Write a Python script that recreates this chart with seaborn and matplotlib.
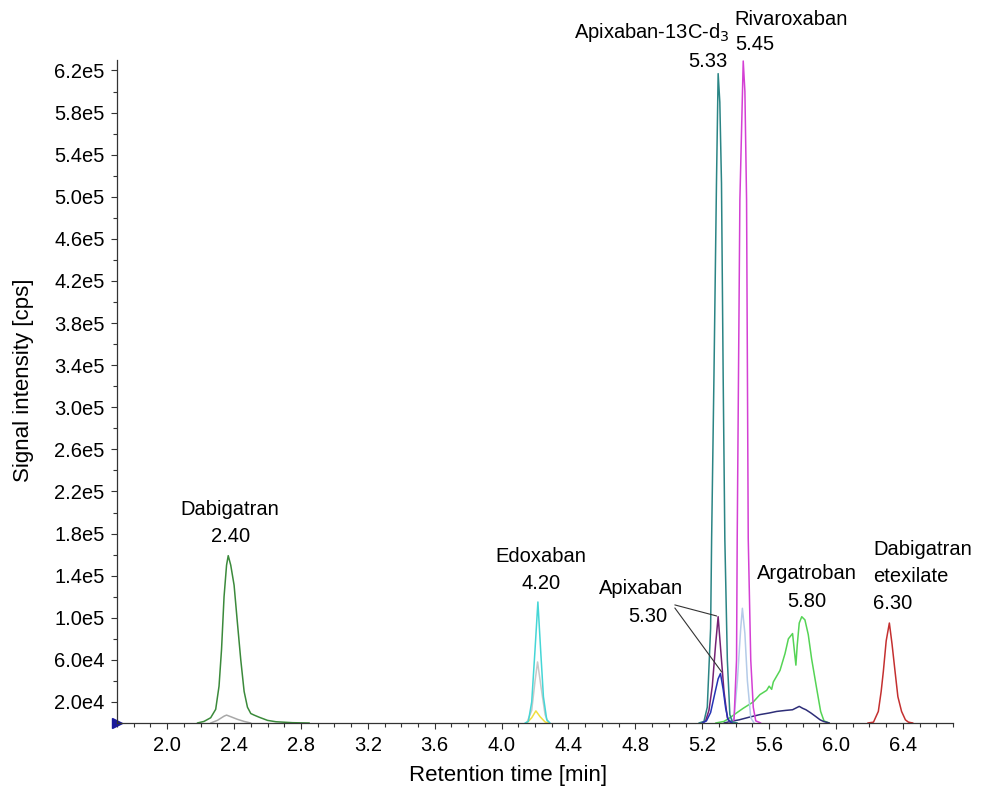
import numpy as np
import pandas as pd
import matplotlib
matplotlib.use("Agg")
import matplotlib.pyplot as plt
from matplotlib.ticker import MultipleLocator, FuncFormatter
import seaborn as sns

# Chromatogram traces: retention time [min] and signal [cps]
dabigatran_t = [2.18, 2.22, 2.26, 2.29, 2.31, 2.325, 2.34, 2.355, 2.365, 2.38, 2.40, 2.42, 2.44, 2.46,
                2.48, 2.50, 2.52, 2.55, 2.60, 2.65, 2.75, 2.85]
dabigatran_i = [0, 1500, 5000, 13000, 35000, 70000, 120000, 150000, 159000, 150000, 131000, 95000, 60000,
                30000, 15000, 9000, 7500, 5500, 2500, 1200, 300, 0]
dabigatran_q_t = [2.26, 2.30, 2.34, 2.355, 2.38, 2.42, 2.46, 2.50]
dabigatran_q_i = [0, 2500, 6500, 7500, 6000, 3500, 1500, 0]

edoxaban_t = [4.14, 4.16, 4.18, 4.20, 4.217, 4.235, 4.25, 4.27, 4.29]
edoxaban_i = [0, 1500, 20000, 70000, 115000, 65000, 25000, 3000, 0]
edoxaban_q_t = [4.15, 4.18, 4.20, 4.215, 4.235, 4.26, 4.28]
edoxaban_q_i = [0, 12000, 40000, 58000, 35000, 8000, 0]
edoxaban_y_t = [4.15, 4.18, 4.205, 4.23, 4.26, 4.28]
edoxaban_y_i = [0, 5000, 11500, 6000, 1000, 0]

apix_is_t = [5.18, 5.21, 5.23, 5.25, 5.256, 5.27, 5.285, 5.295, 5.305, 5.315, 5.325, 5.335, 5.35, 5.365,
             5.38, 5.41]
apix_is_i = [0, 1500, 15000, 90000, 175000, 330000, 513000, 617000, 590000, 513000, 330000, 175000,
             60000, 8000, 1000, 0]

apix_t = [5.20, 5.22, 5.24, 5.26, 5.28, 5.295, 5.31, 5.33, 5.35, 5.37]
apix_i = [0, 2000, 12000, 35000, 75000, 101000, 70000, 30000, 5000, 0]
apix_q_t = [5.20, 5.225, 5.25, 5.275, 5.295, 5.309, 5.325, 5.34, 5.355, 5.38]
apix_q_i = [0, 2000, 10000, 28000, 42000, 47000, 32000, 14000, 3000, 0]

riva_t = [5.37, 5.39, 5.405, 5.409, 5.425, 5.445, 5.455, 5.465, 5.475, 5.49, 5.505, 5.52, 5.55]
riva_i = [0, 3000, 60000, 175000, 497000, 629000, 600000, 497000, 175000, 60000, 15000, 2000, 0]
riva_q_t = [5.37, 5.39, 5.41, 5.43, 5.44, 5.455, 5.47, 5.49, 5.51]
riva_q_i = [0, 5000, 40000, 90000, 109000, 85000, 40000, 5000, 0]

arga_t = [5.28, 5.33, 5.365, 5.40, 5.445, 5.505, 5.545, 5.585, 5.60, 5.615, 5.625, 5.665, 5.695, 5.715,
          5.74, 5.76, 5.768, 5.78, 5.795, 5.814, 5.834, 5.854, 5.884, 5.908, 5.928, 5.96]
arga_i = [0, 1500, 5000, 9000, 14000, 20000, 27000, 31000, 35000, 32000, 39000, 50000, 66000, 80000,
          85000, 55000, 74000, 95000, 101000, 98000, 84000, 61000, 33000, 11000, 2000, 0]
arga_q_t = [5.33, 5.37, 5.42, 5.48, 5.545, 5.60, 5.645, 5.70, 5.74, 5.78, 5.80, 5.82, 5.85, 5.88, 5.905,
            5.925, 5.96]
arga_q_i = [0, 1500, 3000, 5500, 8000, 9500, 11000, 12000, 12600, 15800, 14000, 12600, 9500, 6000, 3000,
            1500, 0]

dabi_ete_t = [6.19, 6.224, 6.253, 6.27, 6.283, 6.30, 6.319, 6.335, 6.353, 6.37, 6.392, 6.415, 6.433, 6.46]
dabi_ete_i = [0, 800, 11000, 30000, 49000, 78000, 95000, 75000, 49000, 25000, 11000, 3000, 800, 0]

traces = {
    "dabigatran": (dabigatran_t, dabigatran_i, "#3b8a3b"),
    "dabigatran_q": (dabigatran_q_t, dabigatran_q_i, "#a8a8a8"),
    "edoxaban_q": (edoxaban_q_t, edoxaban_q_i, "#c8c8c8"),
    "edoxaban_y": (edoxaban_y_t, edoxaban_y_i, "#f0e040"),
    "edoxaban": (edoxaban_t, edoxaban_i, "#45d6d6"),
    "arga": (arga_t, arga_i, "#55d455"),
    "arga_q": (arga_q_t, arga_q_i, "#2e2e78"),
    "riva_q": (riva_q_t, riva_q_i, "#b4cbe8"),
    "riva": (riva_t, riva_i, "#d440d4"),
    "apix_is": (apix_is_t, apix_is_i, "#2b8585"),
    "apix": (apix_t, apix_i, "#742274"),
    "apix_q": (apix_q_t, apix_q_i, "#2533b5"),
    "dabi_ete": (dabi_ete_t, dabi_ete_i, "#c43030"),
}

x_ticks = [2.0, 2.4, 2.8, 3.2, 3.6, 4.0, 4.4, 4.8, 5.2, 5.6, 6.0, 6.4]
y_ticks = [20000, 60000, 100000, 140000, 180000, 220000, 260000, 300000, 340000, 380000, 420000,
           460000, 500000, 540000, 580000, 620000]

rows = []
for name, (ts, vals, _) in traces.items():
    for t, v in zip(ts, vals):
        rows.append((name, t, v))
df = pd.DataFrame(rows, columns=["trace", "time", "signal"])
palette = {k: v[2] for k, v in traces.items()}

sns.set_style("ticks")
plt.rcParams["font.family"] = ["Liberation Sans", "DejaVu Sans"]

fig = plt.figure(figsize=(9.86, 7.9), dpi=100)
ax = fig.add_axes([0.1187, 0.0848, 0.8479, 0.8393])

sns.lineplot(data=df, x="time", y="signal", hue="trace", palette=palette, hue_order=list(traces.keys()),
             estimator=None, sort=False, lw=1.1, legend=False, ax=ax)

ax.set_xlim(1.70, 6.70)
ax.set_ylim(0, 630000)
ax.set_xticks(x_ticks)
ax.set_yticks(y_ticks)
ax.xaxis.set_minor_locator(MultipleLocator(0.1))
ax.yaxis.set_minor_locator(MultipleLocator(20000))


def sci(v, pos):
    e = int(np.floor(np.log10(v)))
    return f"{v / 10 ** e:.1f}e{e}"


ax.yaxis.set_major_formatter(FuncFormatter(sci))
ax.xaxis.set_major_formatter(FuncFormatter(lambda v, p: f"{v:.1f}"))
ax.tick_params(axis="both", which="major", labelsize=14.5, length=4, width=0.8, color="#333333",
               labelcolor="black", pad=5)
ax.tick_params(axis="both", which="minor", length=3, width=0.8, color="#333333")
sns.despine(ax=ax)
for s in ["left", "bottom"]:
    ax.spines[s].set_linewidth(0.9)
    ax.spines[s].set_color("#333333")

ax.set_xlabel("Retention time [min]", fontsize=16, color="black")
ax.set_ylabel("Signal intensity [cps]", fontsize=16, color="black")
ax.xaxis.set_label_coords(0.468, -0.063)
ax.yaxis.set_label_coords(-0.099, 0.517)

# small start marker at the origin corner
ax.plot([1.70], [0], marker=">", color="#1a1a9a", ms=7, clip_on=False)

fs = 14.5
labels = [
    ("Dabigatran", 2.377, 202500, "center"), ("2.40", 2.377, 176800, "center"),
    ("Edoxaban", 4.234, 157800, "center"), ("4.20", 4.234, 132100, "center"),
    ("Apixaban", 4.832, 127400, "center"), ("5.30", 4.874, 100800, "center"),
    ("Argatroban", 5.826, 142000, "center"), ("5.80", 5.826, 115000, "center"),
    ("Dabigatran", 6.222, 164400, "left"), ("etexilate", 6.222, 138800, "left"),
    ("6.30", 6.222, 114000, "left"),
    ("Apixaban-13C-d$_3$", 5.365, 656000, "right"), ("5.33", 5.353, 629000, "right"),
    ("Rivaroxaban", 5.395, 668000, "left"), ("5.45", 5.395, 644500, "left"),
]
for txt, x, y, ha in labels:
    ax.text(x, y, txt, ha=ha, va="center", fontsize=fs, color="black", clip_on=False)

# leader lines for Apixaban
ax.plot([5.036, 5.286], [112200, 101700], color="#333333", lw=0.8)
ax.plot([5.036, 5.316], [109300, 48500], color="#333333", lw=0.8)

fig.savefig("out.png", dpi=100)
